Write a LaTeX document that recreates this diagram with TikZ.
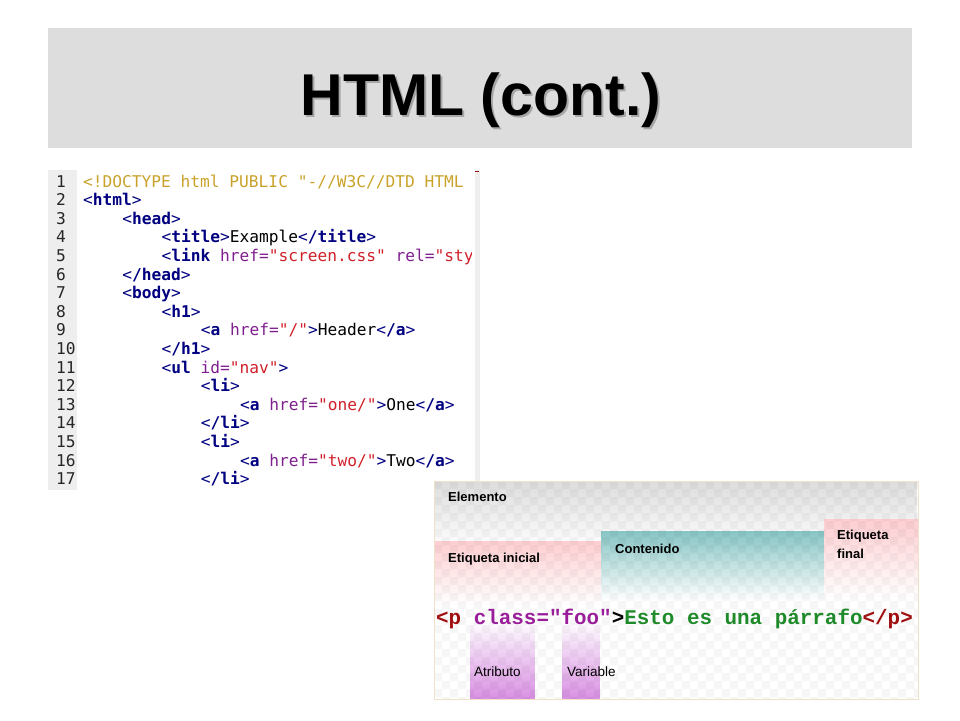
\documentclass[tikz,border=0pt]{standalone}
\usepackage{fontspec}
\setmainfont{Liberation Sans}
\setmonofont{DejaVu Sans Mono}
\newfontfamily\courierfont{Liberation Mono}
\usetikzlibrary{fadings}

\definecolor{band}{HTML}{DDDDDD}
\definecolor{tagc}{HTML}{000080}
\definecolor{attc}{HTML}{7F1F8F}
\definecolor{valc}{HTML}{D0202A}
\definecolor{dtdc}{HTML}{C9A22A}
\definecolor{numcol}{HTML}{EEEEEE}
\definecolor{frame}{HTML}{F0E2C8}
\definecolor{pinkc}{HTML}{FFCFD2}
\definecolor{tealc}{HTML}{88C6C6}
\definecolor{purpc}{HTML}{D98FE3}
\definecolor{ptag}{HTML}{A00F0F}
\definecolor{pattr}{HTML}{9A1E9A}
\definecolor{ptext}{HTML}{1F8A2A}

\newcommand\tgopen[1]{\textcolor{tagc}{<\textbf{#1}}}
\newcommand\tgend{\textcolor{tagc}{>}}
\newcommand\tgclose[1]{\textcolor{tagc}{<\textbf{/#1}>}}
\newcommand\tgattr[2]{ \textcolor{attc}{#1=}\textcolor{valc}{"#2"}}
\newcommand\shadowtext[1]{\rlap{\kern2pt\raisebox{-2pt}{\textcolor{black!35}{#1}}}#1}

\tikzset{
  codeline/.style={anchor=base west,inner sep=0pt,font=\ttfamily\fontsize{16.2}{18}\selectfont},
  lineno/.style={codeline,text=black!85},
  tagname/.style={anchor=base west,inner sep=0pt,font=\fontsize{13}{19}\selectfont\bfseries},
  boxname/.style={anchor=base west,inner sep=0pt,font=\fontsize{13.5}{15}\selectfont},
}

\begin{document}
\begin{tikzpicture}[x=1pt,y=-1pt]
\useasboundingbox (0,0) rectangle (960,720);
% title
\fill[band] (48,28) rectangle (912,148);
\node[anchor=base,inner sep=0pt,font=\fontsize{59}{60}\selectfont\bfseries] (title) at (481,115) {\shadowtext{HTML (cont.)}};

% code listing
\fill[numcol] (48,170) rectangle (77,490);
\fill[numcol] (475,170) rectangle (480,490);
\draw[ptag,line width=1.2pt] (475,171.5) -- (479,171.5);
\foreach \n in {1,...,17}
  \node[lineno] (n\n) at (56,{187+(\n-1)*18.6}) {\n};
\begin{scope}
\clip (78,165) rectangle (471,495);
\node[codeline] (l1) at (83,187) {\textcolor{dtdc}{<!DOCTYPE html PUBLIC "-//W3C//DTD HTML 4.01//EN"}};
\node[codeline] (l2) at (83,205.6) {\tgopen{html}\tgend};
\node[codeline] (l3) at (122.2,224.2) {\tgopen{head}\tgend};
\node[codeline] (l4) at (161.4,242.8) {\tgopen{title}\tgend Example\tgclose{title}};
\node[codeline] (l5) at (161.4,261.4) {\tgopen{link}\tgattr{href}{screen.css}\tgattr{rel}{stylesheet}};
\node[codeline] (l6) at (122.2,280) {\tgclose{head}};
\node[codeline] (l7) at (122.2,298.6) {\tgopen{body}\tgend};
\node[codeline] (l8) at (161.4,317.2) {\tgopen{h1}\tgend};
\node[codeline] (l9) at (200.6,335.8) {\tgopen{a}\tgattr{href}{/}\tgend Header\tgclose{a}};
\node[codeline] (l10) at (161.4,354.4) {\tgclose{h1}};
\node[codeline] (l11) at (161.4,373) {\tgopen{ul}\tgattr{id}{nav}\tgend};
\node[codeline] (l12) at (200.6,391.6) {\tgopen{li}\tgend};
\node[codeline] (l13) at (239.8,410.2) {\tgopen{a}\tgattr{href}{one/}\tgend One\tgclose{a}};
\node[codeline] (l14) at (200.6,428.8) {\tgclose{li}};
\node[codeline] (l15) at (200.6,447.4) {\tgopen{li}\tgend};
\node[codeline] (l16) at (239.8,466) {\tgopen{a}\tgattr{href}{two/}\tgend Two\tgclose{a}};
\node[codeline] (l17) at (200.6,484.6) {\tgclose{li}};
\end{scope}

% element diagram
\begin{scope}
\clip (434,481) rectangle (918,699);
\fill[band, path fading=south] (434,481) rectangle (918,548);
\fill[pinkc, path fading=south] (434,541) rectangle (601,605);
\fill[tealc, path fading=south] (601,531) rectangle (824,600);
\fill[pinkc, path fading=south] (824,519) rectangle (918,598);
\fill[purpc, path fading=north] (470,620) rectangle (535,699);
\fill[purpc, path fading=north] (562,620) rectangle (600,699);
\foreach \x in {0,16,...,480}
  \foreach \y in {0,16,...,208}
    \fill[black,opacity=.035] (434+\x,481+\y) rectangle +(8,8) (442+\x,489+\y) rectangle +(8,8);
\end{scope}
\draw[frame,line width=1pt] (434,481) rectangle (918,699);
\node[tagname] (elemento) at (448,501) {Elemento};
\node[tagname] (inicial) at (448,562) {Etiqueta inicial};
\node[tagname] (contenido) at (615,553) {Contenido};
\node[tagname,align=left] (final) at (837,558) {Etiqueta\\final};
\node[anchor=base west,inner sep=0pt,font=\courierfont\bfseries\fontsize{20.9}{22}\selectfont] (ptag) at (436,624)
  {\textcolor{ptag}{<p} \textcolor{pattr}{class="foo"}>\textcolor{ptext}{Esto es una párrafo}\textcolor{ptag}{</p>}};
\node[boxname] (atributo) at (474,676) {Atributo};
\node[boxname] (variable) at (567,676) {Variable};
\end{tikzpicture}
\end{document}
